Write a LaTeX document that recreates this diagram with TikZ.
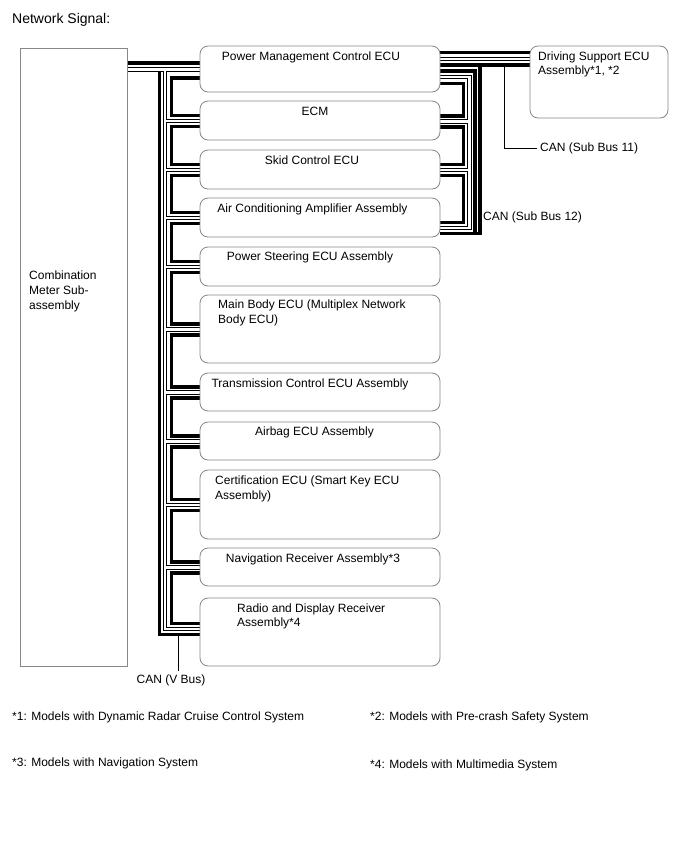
\documentclass[tikz,border=0pt]{standalone}
\usepackage{fontspec}
\setmainfont{Liberation Sans}
\usetikzlibrary{backgrounds}
\definecolor{boxgray}{RGB}{135,135,135}
\begin{document}
\begin{tikzpicture}[x=1pt,y=-1pt,
  ecubox/.style={draw=boxgray, line width=0.8pt, fill=white, rounded corners=8pt,
    inner sep=0pt, outer sep=0pt, minimum width=240pt},
  meterbox/.style={draw=boxgray, line width=0.8pt, fill=white, inner sep=0pt, outer sep=0pt},
  thk/.style={line width=3.2pt, black},
  dbo/.style={line width=4.6pt, black},
  dbi/.style={line width=2.6pt, white},
  leader/.style={line width=0.9pt, black},
  txt/.style={font=\fontsize{12}{15}\selectfont, inner sep=0pt, anchor=base west, align=left},
  ctxt/.style={font=\fontsize{12}{15}\selectfont, inner sep=0pt, anchor=base},
]
\useasboundingbox (0,0) rectangle (688,852);

% ---------- boxes ----------
\node[meterbox, minimum width=107pt, minimum height=618pt] (meter) at (73.5,357) {};
\node[ecubox, minimum height=46pt] (pm) at (320,69) {};
\node[ecubox, minimum width=138pt, minimum height=72pt] (ds) at (599,82) {};
\node[ecubox, minimum height=39pt] (ecm) at (320,120.5) {};
\node[ecubox, minimum height=39pt] (skid) at (320,169.5) {};
\node[ecubox, minimum height=39pt] (air) at (320,217.5) {};
\node[ecubox, minimum height=39pt] (ps) at (320,266.5) {};
\node[ecubox, minimum height=68pt] (mb) at (320,329) {};
\node[ecubox, minimum height=38pt] (tc) at (320,392) {};
\node[ecubox, minimum height=38pt] (ab) at (320,441) {};
\node[ecubox, minimum height=69pt] (cert) at (320,504.5) {};
\node[ecubox, minimum height=38pt] (nav) at (320,567) {};
\node[ecubox, minimum height=68pt] (radio) at (320,632) {};

\coordinate (vtrunkT) at (159.5,69.5);
\coordinate (vtrunkD) at (165,69.5);
\coordinate (vlead) at (178.5,671);
\coordinate (s11a) at (504,148);
\coordinate (s11b) at (537,148);

% ---------- connectors ----------
\begin{scope}[on background layer]
  % V bus: thick wires
  \draw[thk] (meter.east |- 0,63) -- (pm.west |- 0,63);
  \draw[thk] (vtrunkT) -- (159.5,634.5) -- (radio.west |- 0,634.5);
  \foreach \a/\o/\b/\i in {pm/78/ecm/115.5, ecm/126.5/skid/164.5, skid/175.5/air/212.5,
      air/223.5/ps/261.5, ps/272.5/mb/324, mb/335/tc/387, tc/398/ab/436,
      ab/447/cert/499.5, cert/510.5/nav/562, nav/573/radio/623.5}
    \draw[thk] (\a.west |- 0,\o) -| (171.5,\i) -- (\b.west |- 0,\i);
  % Sub bus 11 / 12: thick wires
  \draw[thk] (pm.east |- 0,52.5) -- (ds.west |- 0,52.5);
  \draw[thk] (pm.east |- 0,65) -- (ds.west |- 0,65);
  \draw[thk] (480,65) -- (480,233.5) -- (air.east |- 0,233.5);
  \draw[thk] (pm.east |- 0,71) -| (475,233.5);
  \foreach \a/\o/\b/\i in {pm/83.5/ecm/116, ecm/127/skid/164.5, skid/175.5/air/222.5}
    \draw[thk] (\a.east |- 0,\o) -| (463.5,\i) -- (\b.east |- 0,\i);
  % double wires: outline pass, then inner pass
  \foreach \s in {dbo,dbi}{
    \draw[\s] (meter.east |- 0,69.5) -- (pm.west |- 0,69.5);
    \draw[\s] (vtrunkD) -- (165,629) -- (radio.west |- 0,629);
    \foreach \b/\y in {ecm/121, skid/170, air/218, ps/267, mb/329.5, tc/392.5,
        ab/441.5, cert/505, nav/567.5}
      \draw[\s] (165,\y) -- (\b.west |- 0,\y);
    \draw[\s] (pm.east |- 0,59) -- (ds.west |- 0,59);
    \draw[\s] (pm.east |- 0,77) -| (469.5,228) -- (air.east |- 0,228);
    \foreach \b/\y in {ecm/121.5, skid/170}
      \draw[\s] (469.5,\y) -- (\b.east |- 0,\y);
  }
  % leaders
  \draw[leader] (178.5,636.1) -- (vlead);
  \draw[leader] (504,66.6) -- (s11a) -- (s11b);
\end{scope}

% ---------- texts ----------
\node[txt, font=\fontsize{14}{16}\selectfont] (title) at (12,23) {Network Signal:};
\node[txt] (metert) at (29,309.5) {Combination\\Meter Sub-\\assembly};
\node[ctxt] (pmt) at (311,60.5) {Power Management Control ECU};
\node[txt, font=\fontsize{12}{14}\selectfont] (dst) at (538,74.5) {Driving Support ECU\\Assembly*1, *2};
\node[ctxt] (ecmt) at (315,115.5) {ECM};
\node[ctxt] (skidt) at (312,164.5) {Skid Control ECU};
\node[ctxt] (airt) at (312.5,212.5) {Air Conditioning Amplifier Assembly};
\node[ctxt] (pst) at (310,260.5) {Power Steering ECU Assembly};
\node[txt] (mbt) at (218,323.5) {Main Body ECU (Multiplex Network\\Body ECU)};
\node[ctxt] (tct) at (310,387.5) {Transmission Control ECU Assembly};
\node[ctxt] (abt) at (314.5,435.5) {Airbag ECU Assembly};
\node[txt] (certt) at (215,499.5) {Certification ECU (Smart Key ECU\\Assembly)};
\node[ctxt] (navt) at (313,562.5) {Navigation Receiver Assembly*3};
\node[txt, font=\fontsize{12}{14}\selectfont] (radiot) at (237,626.5) {Radio and Display Receiver\\Assembly*4};
\node[txt] (s11t) at (540,151.5) {CAN (Sub Bus 11)};
\node[txt] (s12t) at (483,220.5) {CAN (Sub Bus 12)};
\node[ctxt] (vbt) at (171,683.5) {CAN (V Bus)};
\node[txt] (fn1) at (12,720.5) {*1: Models with Dynamic Radar Cruise Control System};
\node[txt] (fn2) at (370,720.5) {*2: Models with Pre-crash Safety System};
\node[txt] (fn3) at (12,766.5) {*3: Models with Navigation System};
\node[txt] (fn4) at (370,768.5) {*4: Models with Multimedia System};
\end{tikzpicture}
\end{document}
